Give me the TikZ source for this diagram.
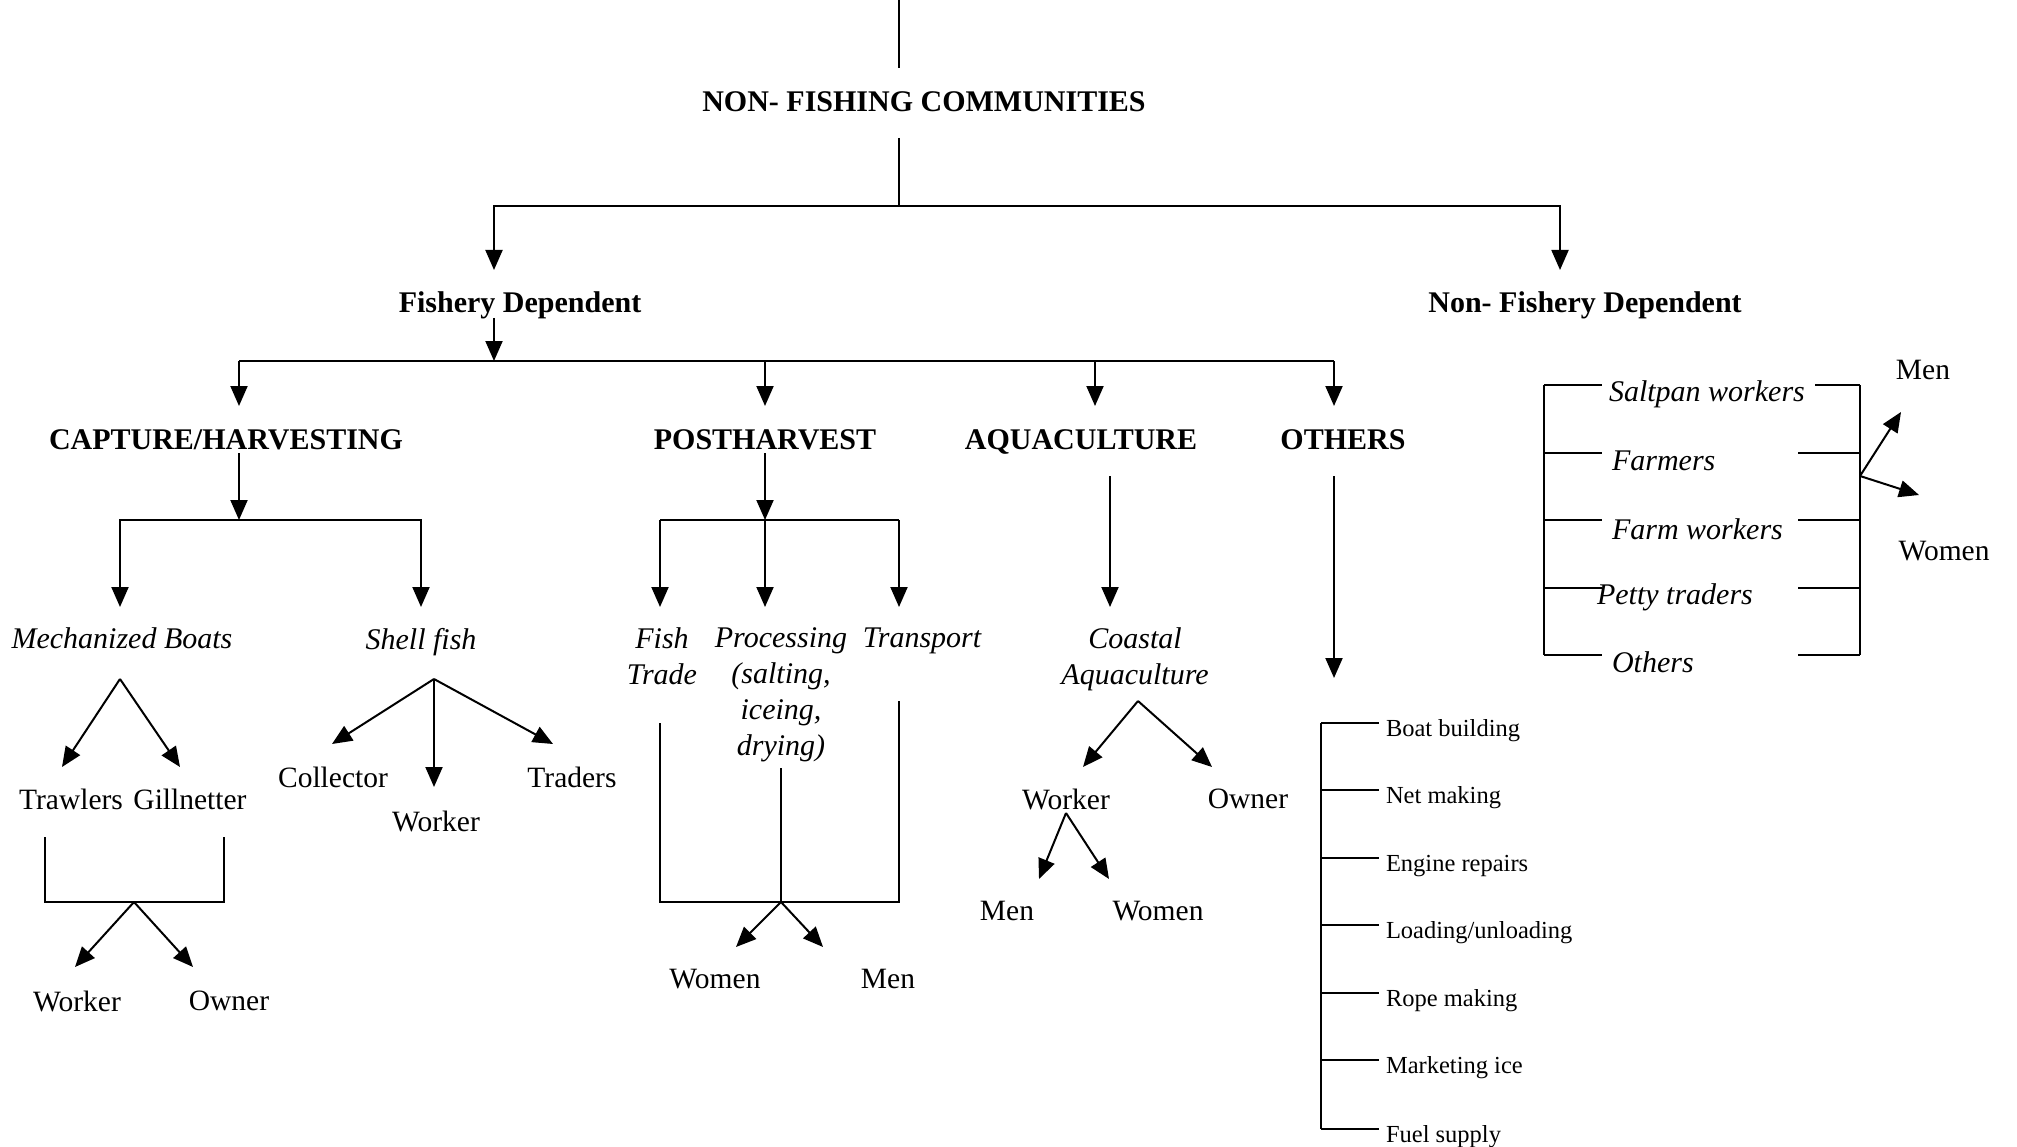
\documentclass[tikz,border=0pt]{standalone}
\usepackage{fontspec}
\setmainfont{Liberation Serif}
\usetikzlibrary{arrows.meta}
\begin{document}
\begin{tikzpicture}[x=1pt,y=-1pt,line width=2pt,
  every node/.style={inner sep=0pt,font=\fontsize{29.5}{36}\selectfont},
  bfn/.style={font=\fontsize{30}{36}\selectfont\bfseries},
  itn/.style={font=\fontsize{30}{36}\selectfont\itshape,align=center},
  smn/.style={font=\fontsize{24.5}{28}\selectfont,anchor=west},
  itw/.style={font=\fontsize{30}{36}\selectfont\itshape,anchor=west},
  ar/.style={-{Triangle[length=20pt,width=17pt]}}]
\useasboundingbox (0,0) rectangle (2017,1147);

% ---- root
\coordinate (r0) at (899,0);
\coordinate (r1) at (899,68);
\draw (r0) -- (r1);
\node[bfn] (nfc) at (924,102) {NON- FISHING COMMUNITIES};
\coordinate (r2) at (899,138);
\coordinate (r3) at (899,206);
\coordinate (rl) at (494,206);
\coordinate (rr) at (1560,206);
\coordinate (rlt) at (494,270);
\coordinate (rrt) at (1560,270);
\draw (r2) -- (r3);
\draw[ar] (r3) -- (rl) -- (rlt);
\draw[ar] (r3) -- (rr) -- (rrt);
\node[bfn] (fd) at (520,305) {Fishery Dependent};
\node[bfn] (nfd) at (1585,305) {Non- Fishery Dependent};

% ---- fishery dependent
\coordinate (f0) at (494,318);
\coordinate (f1) at (494,361);
\draw[ar] (f0) -- (f1);
\coordinate (hA) at (239,361);
\coordinate (hB) at (765,361);
\coordinate (hC) at (1095,361);
\coordinate (hD) at (1334,361);
\draw (hA) -- (hD);
\coordinate (hAt) at (239,406);
\coordinate (hBt) at (765,406);
\coordinate (hCt) at (1095,406);
\coordinate (hDt) at (1334,406);
\draw[ar] (hA) -- (hAt);
\draw[ar] (hB) -- (hBt);
\draw[ar] (hC) -- (hCt);
\draw[ar] (hD) -- (hDt);
\node[bfn] (cap) at (226,440) {CAPTURE/HARVESTING};
\node[bfn] (post) at (765,440) {POSTHARVEST};
\node[bfn] (aqua) at (1081,442) {AQUACULTURE};
\node[bfn] (oth) at (1343,440) {OTHERS};

% ---- capture
\coordinate (c0) at (239,453);
\coordinate (c1) at (239,520);
\draw[ar] (c0) -- (c1);
\coordinate (cl) at (120,520);
\coordinate (cr) at (421,520);
\coordinate (clt) at (120,607);
\coordinate (crt) at (421,607);
\draw[ar] (c1) -- (cl) -- (clt);
\draw[ar] (c1) -- (cr) -- (crt);
\node[itn] (mech) at (122,638) {Mechanized Boats};
\node[itn] (shell) at (421,642) {Shell fish};

\coordinate (m0) at (120,679);
\coordinate (m1) at (62,767);
\coordinate (m2) at (180,767);
\draw[ar] (m0) -- (m1);
\draw[ar] (m0) -- (m2);
\node (trawl) at (71,799) {Trawlers};
\node (gill) at (190,799) {Gillnetter};
\coordinate (b1) at (45,837);
\coordinate (b2) at (45,902);
\coordinate (b3) at (224,902);
\coordinate (b4) at (224,837);
\draw (b1) -- (b2) -- (b3) -- (b4);
\coordinate (b0) at (134,902);
\coordinate (b5) at (75,967);
\coordinate (b6) at (193,967);
\draw[ar] (b0) -- (b5);
\draw[ar] (b0) -- (b6);
\node (w1) at (77,1001) {Worker};
\node (o1) at (229,1001) {Owner};

\coordinate (s0) at (434,679);
\coordinate (s1) at (332,744);
\coordinate (s2) at (434,787);
\coordinate (s3) at (553,744);
\draw[ar] (s0) -- (s1);
\draw[ar] (s0) -- (s2);
\draw[ar] (s0) -- (s3);
\node (coll) at (333,777) {Collector};
\node (w2) at (436,821) {Worker};
\node (trad) at (572,777) {Traders};

% ---- postharvest
\coordinate (p0) at (765,453);
\coordinate (p1) at (765,520);
\draw[ar] (p0) -- (p1);
\coordinate (pl) at (660,520);
\coordinate (pr) at (899,520);
\draw (pl) -- (pr);
\coordinate (plt) at (660,607);
\coordinate (pmt) at (765,607);
\coordinate (prt) at (899,607);
\draw[ar] (pl) -- (plt);
\draw[ar] (p1) -- (pmt);
\draw[ar] (pr) -- (prt);
\node[itn] (ft) at (662,656) {Fish\\Trade};
\node[itn] (proc) at (781,695) {Processing\\(salting,\\iceing,\\drying)};
\node[itn] (trans) at (922,641) {Transport};
\coordinate (q1) at (660,723);
\coordinate (q2) at (660,902);
\coordinate (q3) at (899,902);
\coordinate (q4) at (899,701);
\draw (q1) -- (q2) -- (q3) -- (q4);
\coordinate (q5) at (781,768);
\coordinate (q6) at (781,902);
\draw (q5) -- (q6);
\coordinate (q7) at (736,947);
\coordinate (q8) at (823,947);
\draw[ar] (q6) -- (q7);
\draw[ar] (q6) -- (q8);
\node (wom1) at (715,979) {Women};
\node (men1) at (888,979) {Men};

% ---- aquaculture
\coordinate (a0) at (1110,476);
\coordinate (a1) at (1110,607);
\draw[ar] (a0) -- (a1);
\node[itn] (coast) at (1135,659) {Coastal\\Aquaculture};
\coordinate (a2) at (1138,701);
\coordinate (a3) at (1083,767);
\coordinate (a4) at (1212,767);
\draw[ar] (a2) -- (a3);
\draw[ar] (a2) -- (a4);
\node (w3) at (1066,799) {Worker};
\node (o3) at (1248,799) {Owner};
\coordinate (a5) at (1066,813);
\coordinate (a6) at (1039,879);
\coordinate (a7) at (1109,879);
\draw[ar] (a5) -- (a6);
\draw[ar] (a5) -- (a7);
\node (men3) at (1007,911) {Men};
\node (wom3) at (1158,911) {Women};

% ---- others
\coordinate (o0) at (1334,476);
\coordinate (o1t) at (1334,678);
\draw[ar] (o0) -- (o1t);
\coordinate (ot) at (1321,723);
\coordinate (ob) at (1321,1129);
\draw (ot) -- (ob);
\foreach \y/\t [count=\i] in {723/{Boat building},790/{Net making},858/{Engine repairs},925/{Loading/unloading},993/{Rope making},1060/{Marketing ice},1129/{Fuel supply}}{
  \coordinate (ol\i) at (1321,\y);
  \coordinate (oe\i) at (1379,\y);
  \draw (ol\i) -- (oe\i);
  \node[smn] (olab\i) at (1385,\y+8) {\t};
}

% ---- non-fishery dependent
\coordinate (nlt) at (1544,385);
\coordinate (nlb) at (1544,655);
\coordinate (nrt) at (1860,385);
\coordinate (nrb) at (1860,655);
\draw (nlt) -- (nlb);
\draw (nrt) -- (nrb);
\foreach \y [count=\i] in {385,453,520,588,655}{
  \coordinate (nl\i) at (1544,\y);
  \coordinate (nle\i) at (1602,\y);
  \coordinate (nr\i) at (1860,\y);
  \draw (nl\i) -- (nle\i);
}
\coordinate (nrs1) at (1815,385);
\draw (nrs1) -- (nr1);
\foreach \i/\y in {2/453,3/520,4/588,5/655}{
  \coordinate (nrs\i) at (1798,\y);
  \draw (nrs\i) -- (nr\i);
}
\node[itw] (salt) at (1608,394) {Saltpan workers};
\node[itw] (farm) at (1611,461) {Farmers};
\node[itw] (farmw) at (1611,529) {Farm workers};
\node[itw] (petty) at (1596,597) {Petty traders};
\node[itw] (noth) at (1611,662) {Others};
\coordinate (n0) at (1860,476);
\coordinate (n1) at (1901,412);
\coordinate (n2) at (1919,495);
\draw[ar] (n0) -- (n1);
\draw[ar] (n0) -- (n2);
\node (men4) at (1923,370) {Men};
\node (wom4) at (1944,551) {Women};
\end{tikzpicture}
\end{document}
